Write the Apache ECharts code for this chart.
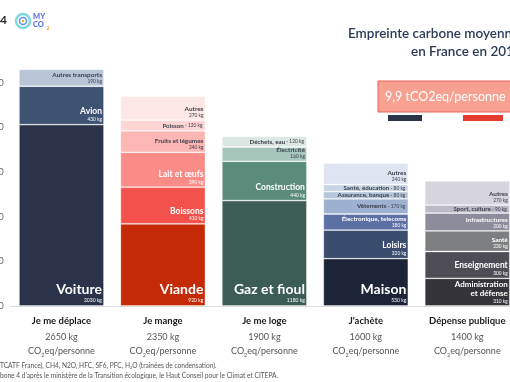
<!DOCTYPE html>
<html><head><meta charset="utf-8">
<script src="https://cdn.jsdelivr.net/npm/echarts@6/dist/echarts.min.js"></script>
<style>html,body{margin:0;padding:0;background:#fff}#c{width:510px;height:382px}</style>
</head><body><div id="c"></div>
<script>
// ---------- data ----------
const categories = ['Je me déplace', 'Je mange', 'Je me loge', "J'achète", 'Dépense publique'];
const totals = [2650, 2350, 1900, 1600, 1400];
const yTicks = [0, 500, 1000, 1500, 2000, 2500];

const deplaceNames = ['Voiture', 'Avion', 'Autres transports'];
const deplaceValues = [2030, 430, 190];
const mangeNames = ['Viande', 'Boissons', 'Lait et œufs', 'Fruits et légumes', 'Poisson', 'Autres'];
const mangeValues = [920, 410, 390, 240, 120, 270];
const logeNames = ['Gaz et fioul', 'Construction', 'Électricité', 'Déchets, eau'];
const logeValues = [1180, 440, 160, 120];
const acheteNames = ['Maison', 'Loisirs', 'Électronique, telecoms', 'Vêtements', 'Assurance, banque', 'Santé, éducation', 'Autres'];
const acheteValues = [530, 320, 180, 170, 80, 80, 240];
const publiqueNames = ['Administration et défense', 'Enseignement', 'Santé', 'Infrastructures', 'Sport, culture', 'Autres'];
const publiqueValues = [310, 300, 230, 200, 90, 270];

// ---------- styles ----------
const W = '#ffffff', D = '#3a3d4a';
const deplaceColors = ['#2a3349', '#3e5272', '#b8c5d6'];
const deplaceTiers = ['big', 'mid', 'small'];
const deplaceInk = [W, W, D];
const mangeColors = ['#c42a05', '#f2524b', '#f98c87', '#fcb6b3', '#fdd5d3', '#fee8e6'];
const mangeTiers = ['big', 'mid', 'mid', 'small', 'inline', 'small'];
const mangeInk = [W, W, W, D, D, D];
const logeColors = ['#3c5d55', '#5b8b7b', '#a6c6bb', '#dbe7e2'];
const logeTiers = ['big', 'mid', 'small', 'inline'];
const logeInk = [W, W, D, D];
const acheteColors = ['#1d2438', '#3b4d6f', '#5d70a4', '#9cb1cf', '#b6c6dd', '#c9d5e6', '#dee5f0'];
const acheteTiers = ['big', 'mid', 'small', 'inline', 'inline', 'inline', 'small'];
const acheteInk = [W, W, W, D, D, D, D];
const publiqueColors = ['#35343a', '#4e4d56', '#7d7e7f', '#8d8c9b', '#bbbac6', '#d6d5dd'];
const publiqueTiers = ['mid2', 'mid', 'small', 'small', 'inline', 'small'];
const publiqueInk = [W, W, W, W, D, D];

const columns = [
  { names: deplaceNames, values: deplaceValues, colors: deplaceColors, tiers: deplaceTiers, ink: deplaceInk },
  { names: mangeNames, values: mangeValues, colors: mangeColors, tiers: mangeTiers, ink: mangeInk },
  { names: logeNames, values: logeValues, colors: logeColors, tiers: logeTiers, ink: logeInk },
  { names: acheteNames, values: acheteValues, colors: acheteColors, tiers: acheteTiers, ink: acheteInk },
  { names: publiqueNames, values: publiqueValues, colors: publiqueColors, tiers: publiqueTiers, ink: publiqueInk }
];

const FONT = 'Lato, "Noto Sans", sans-serif';
const tierStyle = {
  big: { size: 14, lh: 16, kSize: 5, kLh: 7, weight: 'bold', dist: 2 },
  mid: { size: 8.5, lh: 10, kSize: 4.8, kLh: 6, weight: 'bold', dist: 2 },
  mid2: { size: 8, lh: 9, kSize: 4.8, kLh: 6, weight: 'bold', dist: 2 },
  small: { size: 6.4, lh: 7, kSize: 4.8, kLh: 6, weight: 'bold', dist: 2 },
  inline: { size: 6.2, lh: 7, kSize: 4.8, kLh: 7, weight: 'bold', dist: 3 }
};

const series = [];
columns.forEach((col, ci) => {
  col.names.forEach((name, si) => {
    const tier = col.tiers[si];
    const ts = tierStyle[tier];
    const ink = col.ink[si];
    const val = col.values[si];
    let fmt;
    if (tier === 'inline') {
      fmt = `{n|${name}}{k| - ${val} kg}`;
    } else if (tier === 'mid2') {
      const parts = name.split(' et ');
      fmt = `{n|${parts[0]}}\n{n|et ${parts[1]}}\n{k|${val} kg}`;
    } else {
      fmt = `{n|${name}}\n{k|${val} kg}`;
    }
    series.push({
      type: 'bar',
      stack: 'total',
      barWidth: 85,
      name: name,
      data: categories.map((_, k) => (k === ci ? val : '-')),
      itemStyle: { color: col.colors[si], borderColor: 'rgba(255,255,255,0.45)', borderWidth: 0.8 },
      label: {
        show: true,
        position: tier === 'inline' ? 'insideRight' : 'insideBottomRight',
        distance: ts.dist,
        formatter: () => fmt,
        rich: {
          n: { fontFamily: FONT, fontSize: ts.size, lineHeight: ts.lh, fontWeight: ts.weight, color: ink, align: 'right' },
          k: { fontFamily: FONT, fontSize: ts.kSize, lineHeight: ts.kLh, fontWeight: 'normal', color: ink, align: 'right' }
        }
      },
      emphasis: { disabled: true }
    });
  });
});

const chart = echarts.init(document.getElementById('c'), null, { renderer: 'canvas' });
chart.setOption({
  animation: false,
  backgroundColor: '#ffffff',
  grid: { left: 10.75, right: -8, top: 38, bottom: 76, containLabel: false, outerBoundsMode: 'none' },
  xAxis: {
    type: 'category',
    data: categories,
    axisLine: { lineStyle: { color: '#dedede', width: 1 } },
    axisTick: { show: false },
    axisLabel: {
      interval: 0,
      margin: 6,
      formatter: (v, i) => `{t|${v}}\n{v|${totals[i]} kg}\n{v|CO}{s|2}{v|eq/personne}`,
      rich: {
        t: { fontFamily: FONT, fontSize: 9.5, fontWeight: 'bold', color: '#1a1a1a', lineHeight: 18 },
        v: { fontFamily: FONT, fontSize: 9, color: '#555555', lineHeight: 14 },
        s: { fontFamily: FONT, fontSize: 5.5, color: '#555555', lineHeight: 14, verticalAlign: 'bottom' }
      }
    }
  },
  yAxis: {
    type: 'value',
    min: 0, max: 3000, interval: 500,
    axisLine: { show: false },
    axisTick: { show: false },
    splitLine: { show: false },
    axisLabel: {
      margin: 7,
      color: '#666666',
      fontSize: 9,
      fontFamily: FONT,
      formatter: v => (yTicks.includes(v) ? String(v) : '')
    }
  },
  series: series,
  graphic: [
    { type: 'text', left: 0, top: 14, style: { text: '4', font: `bold 12px ${FONT}`, fill: '#2b2b2b' } },
    { type: 'circle', shape: { cx: 23, cy: 21, r: 7 }, style: { fill: 'none', stroke: '#7dd9e2', lineWidth: 2.5 } },
    { type: 'circle', shape: { cx: 23, cy: 21, r: 3.5 }, style: { fill: 'none', stroke: '#5a8fe6', lineWidth: 1.5 } },
    { type: 'circle', shape: { cx: 23, cy: 21, r: 1.2 }, style: { fill: '#f5a623' } },
    { type: 'text', left: 33, top: 13, style: { text: 'MY', font: `900 7.5px ${FONT}`, fill: '#5b6fe0' } },
    { type: 'text', left: 33, top: 21, style: { text: 'CO', font: `900 7.5px ${FONT}`, fill: '#5b6fe0' } },
    { type: 'text', left: 46.5, top: 26, style: { text: '2', font: `bold 5px ${FONT}`, fill: '#f5a623' } },
    { type: 'text', left: 348, top: 27, style: { text: 'Empreinte carbone moyenne', font: `600 13.5px ${FONT}`, fill: '#2c3a57' } },
    { type: 'text', left: 411, top: 45, style: { text: 'en France en 2019', font: `600 13.5px ${FONT}`, fill: '#2c3a57' } },
    { type: 'rect', shape: { x: 388, y: 115, width: 34, height: 6 }, style: { fill: '#2b3349' }, z: 1 },
    { type: 'rect', shape: { x: 463, y: 115, width: 40, height: 6 }, style: { fill: '#e53a30' }, z: 1 },
    { type: 'rect', shape: { x: 378, y: 81, width: 140, height: 31 }, style: { fill: '#f9a191', stroke: '#e8655a', lineWidth: 1 }, z: 2 },
    { type: 'text', left: 385, top: 90, z: 3, style: { text: '9,9 tCO2eq/personne', font: `12.5px ${FONT}`, fill: '#ffffff' } },
    { type: 'text', left: 0, top: 362, style: { text: 'TCATF France), CH4, N2O, HFC, SF6, PFC, H₂O (traînées de condensation).', font: `6.6px ${FONT}`, fill: '#555555' } },
    { type: 'text', left: 0, top: 372, style: { text: "bone 4 d'après le ministère de la Transition écologique, le Haut Conseil pour le Climat et CITEPA.", font: `6.6px ${FONT}`, fill: '#555555' } }
  ]
});
</script>
</body></html>
